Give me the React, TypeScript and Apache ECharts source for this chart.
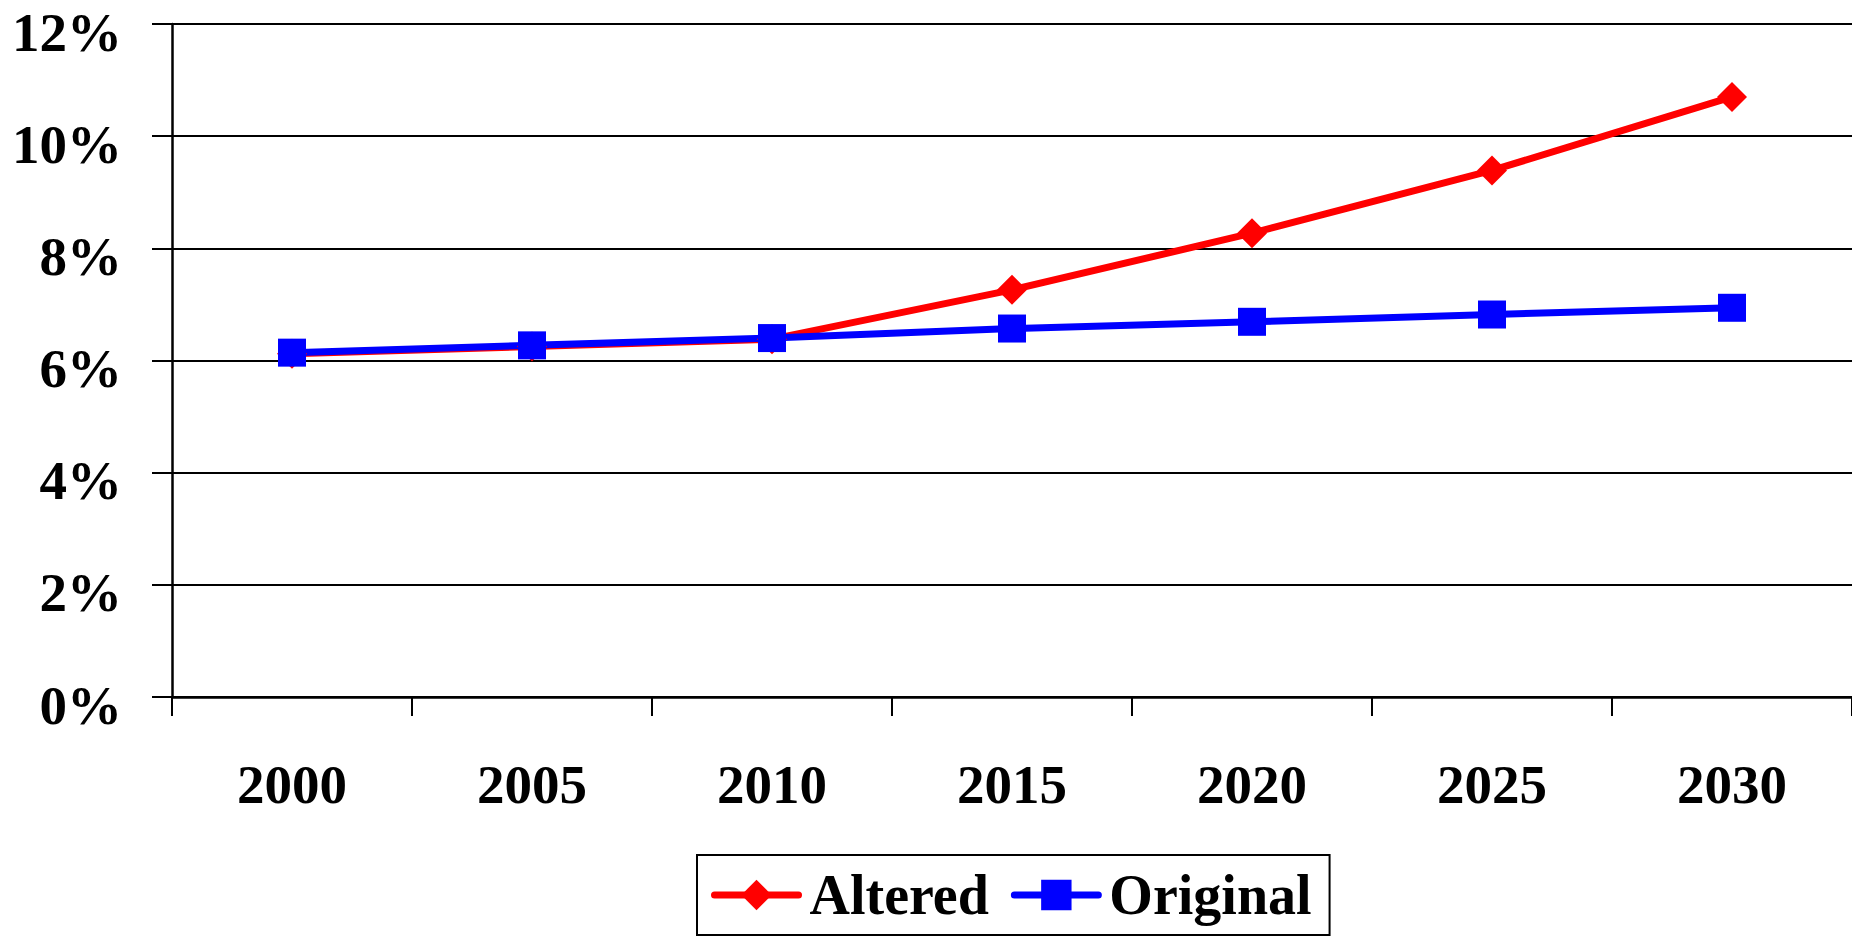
import React, { useEffect, useRef } from "react";
import * as echarts from "echarts";

const years = ["2000", "2005", "2010", "2015", "2020", "2025", "2030"];
const altered = [6.12, 6.25, 6.38, 7.26, 8.27, 9.39, 10.7];
const original = [6.14, 6.27, 6.4, 6.57, 6.69, 6.82, 6.94];
const seriesNames = ["Altered", "Original"];

const FONT = '"Times New Roman", "Liberation Serif", serif';

export default function App() {
  const ref = useRef<HTMLDivElement>(null);
  useEffect(() => {
    if (!ref.current) return;
    const chart = echarts.init(ref.current, undefined, { renderer: "svg" });
    chart.setOption({
      animation: false,
      backgroundColor: "#fff",
      grid: { left: 172, right: 0, top: 24, bottom: 240, containLabel: false },
      legend: {
        left: 697,
        top: 855,
        padding: [12, 18, 12, 14],
        itemGap: 22,
        itemWidth: 84,
        itemHeight: 38,
        borderColor: "#000",
        borderWidth: 2,
        lineStyle: { width: 7, cap: "round" },
        textStyle: { fontFamily: FONT, fontWeight: "bold", fontSize: 56, color: "#000", padding: [0, 0, 0, 6] },
        data: seriesNames,
      },
      xAxis: {
        type: "category",
        data: years,
        boundaryGap: true,
        axisLine: { lineStyle: { color: "#000", width: 2.5 } },
        axisTick: { show: true, length: 19, lineStyle: { color: "#000", width: 2 } },
        axisLabel: { fontFamily: FONT, fontWeight: "bold", fontSize: 55, color: "#000", margin: 60 },
        splitLine: { show: false },
      },
      yAxis: {
        type: "value",
        min: 0,
        max: 12,
        interval: 2,
        axisLine: { show: true, lineStyle: { color: "#000", width: 2.5 } },
        axisTick: { show: true, length: 20, lineStyle: { color: "#000", width: 2 } },
        axisLabel: {
          fontFamily: FONT,
          fontWeight: "bold",
          fontSize: 55,
          verticalAlign: "top",
          lineHeight: 16,
          color: "#000",
          margin: 50,
          formatter: (v: number) => `${v}%`,
        },
        splitLine: { show: true, lineStyle: { color: "#000", width: 2 } },
      },
      series: [
        {
          name: seriesNames[0],
          type: "line",
          data: altered,
          symbol: "diamond",
          symbolSize: 30,
          itemStyle: { color: "#ff0000" },
          lineStyle: { color: "#ff0000", width: 7 },
        },
        {
          name: seriesNames[1],
          type: "line",
          data: original,
          symbol: "rect",
          symbolSize: 28,
          itemStyle: { color: "#0000ff" },
          lineStyle: { color: "#0000ff", width: 7 },
        },
      ],
    });
    return () => chart.dispose();
  }, []);
  return (
    <div
      ref={ref}
      style={{ position: "fixed", left: 0, top: 0, width: "1852px", height: "937px", background: "#fff" }}
    />
  );
}
